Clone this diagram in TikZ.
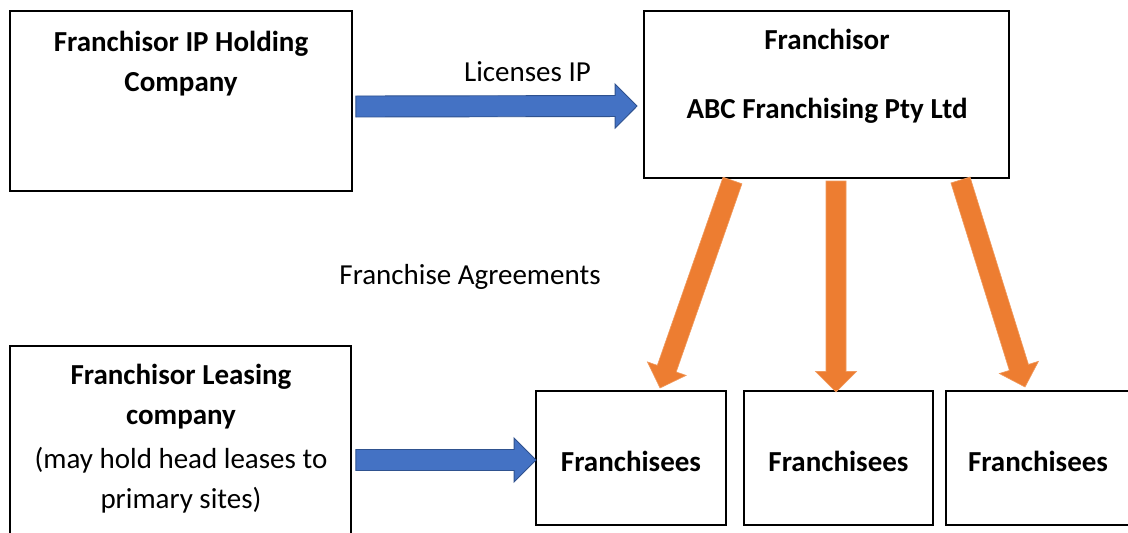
\documentclass[tikz,border=0pt]{standalone}
\usepackage{fontspec}
\setmainfont{Carlito}
\usetikzlibrary{calc}
\definecolor{bluefill}{HTML}{4472C4}
\definecolor{blueedge}{HTML}{2F528F}
\definecolor{orangefill}{HTML}{ED7D31}
\definecolor{orangeedge}{HTML}{F09A5E}
\tikzset{
  box/.style={draw=black, line width=1.8pt, rectangle, inner sep=0pt},
  lbl/.style={anchor=base, inner sep=0pt, font=\fontsize{29}{40}\selectfont},
  blbl/.style={lbl, font=\fontsize{29}{40}\selectfont\bfseries},
  fat/.style n args={3}{to path={
    ($(\tikztostart)!#1!90:(\tikztotarget)$) --
    ($(\tikztotarget)!#3!(\tikztostart)!#1!-90:(\tikztostart)$) --
    ($(\tikztotarget)!#3!(\tikztostart)!#2!-90:(\tikztostart)$) --
    (\tikztotarget) --
    ($(\tikztotarget)!#3!(\tikztostart)!#2!90:(\tikztostart)$) --
    ($(\tikztotarget)!#3!(\tikztostart)!#1!90:(\tikztostart)$) --
    ($(\tikztostart)!#1!-90:(\tikztotarget)$) -- cycle}},
  bluearrow/.style={fill=bluefill, draw=blueedge, line width=0.9pt, line join=miter, fat={10.5pt}{22pt}{22pt}},
  orangearrow/.style={fill=orangefill, draw=orangeedge, line width=0.6pt, line join=miter, fat={10pt}{20.5pt}{20.5pt}},
}
\begin{document}
\begin{tikzpicture}[x=1pt, y=-1pt]
\useasboundingbox[fill=white] (0,0) rectangle (1128,533);

% boxes
\node[box, minimum width=342pt, minimum height=180pt] (ip) at (181,101) {};
\node[box, minimum width=365pt, minimum height=167pt] (fr) at (826.5,94.5) {};
\node[box, minimum width=341pt, minimum height=199pt] (ls) at (180.5,445.5) {};
\node[box, minimum width=190pt, minimum height=134pt] (fa) at (631,458) {};
\node[box, minimum width=189pt, minimum height=134pt] (fb) at (838.5,458) {};
\node[box, minimum width=194pt, minimum height=134pt] (fc) at (1043,458) {};

% texts
\node[blbl] (t1) at (181,51.5) {Franchisor IP Holding};
\node[blbl] (t2) at (181,91.5) {Company};
\node[blbl] (t3) at (827,49.5) {Franchisor};
\node[blbl] (t4) at (827,118.5) {ABC Franchising Pty Ltd};
\node[blbl] (t5) at (181,384.5) {Franchisor Leasing};
\node[blbl] (t6) at (181,424.5) {company};
\node[lbl] (t7) at (181,468.5) {(may hold head leases to};
\node[lbl] (t8) at (181,508.5) {primary sites)};
\node[blbl] (ta) at (631,471.5) {Franchisees};
\node[blbl] (tb) at (838.5,471.5) {Franchisees};
\node[blbl] (tc) at (1038,471.5) {Franchisees};
\node[lbl] (lic) at (527.5,81.5) {Licenses IP};
\node[lbl] (agr) at (470,284.5) {Franchise Agreements};

% arrow end points
\coordinate (b1s) at ($(ip.east)+(3,5.5)$);
\coordinate (b1e) at ($(fr.west)+(-6,11.5)$);
\coordinate (b2s) at ($(ls.east)+(4,14.5)$);
\coordinate (b2e) at ($(fa.west)+(1,2)$);
\coordinate (o1s) at (732.5,180.5);
\coordinate (o1e) at (660,388);
\coordinate (o2s) at (836,181);
\coordinate (o2e) at (836,392);
\coordinate (o3s) at (960.5,180);
\coordinate (o3e) at (1025,387);

\draw[bluearrow] (b1s) to (b1e);
\draw[bluearrow] (b2s) to (b2e);
\draw[orangearrow] (o1s) to (o1e);
\draw[orangearrow] (o2s) to (o2e);
\draw[orangearrow] (o3s) to (o3e);
\end{tikzpicture}
\end{document}
